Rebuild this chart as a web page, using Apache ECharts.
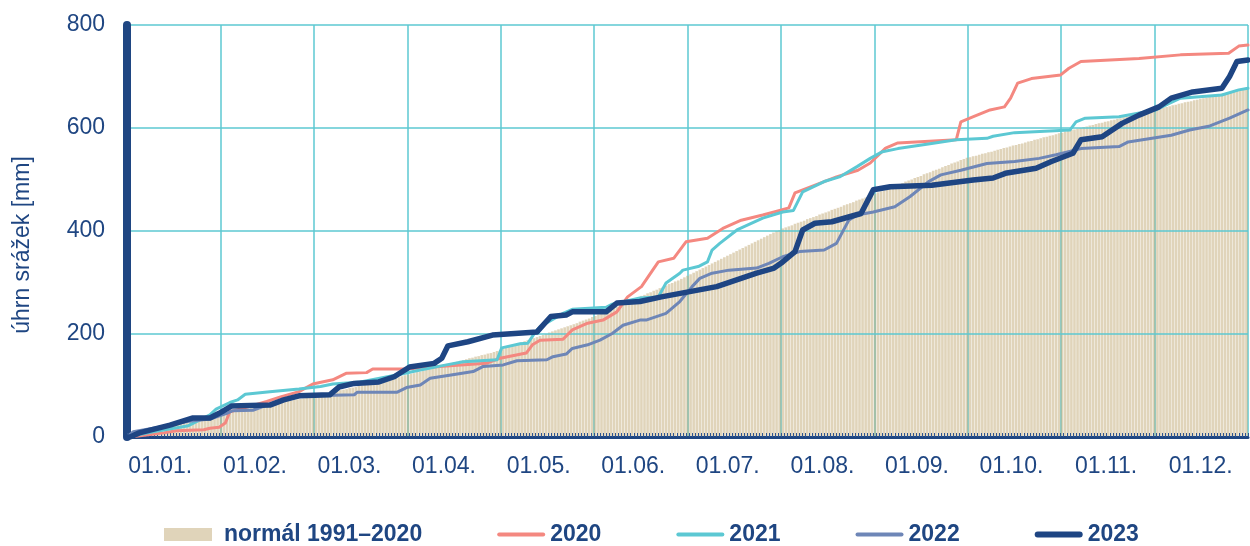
<!DOCTYPE html>
<html><head><meta charset="utf-8">
<script src="https://cdn.jsdelivr.net/npm/echarts@6/dist/echarts.min.js"></script>
<style>html,body{margin:0;padding:0;background:#fff}#c{width:1250px;height:546px}</style>
</head><body><div id="c"></div>
<script>
// month tick labels
const monthLabels = ['01.01.','01.02.','01.03.','01.04.','01.05.','01.06.','01.07.','01.08.','01.09.','01.10.','01.11.','01.12.'];
const yMin = 0, yMax = 800, yStep = 200;

// daily cumulative normal 1991–2020 [mm], one value per day of year
const normal = [
 1,3,4,6,7,9,10,12,13,15,16,17,19,20,22,23,25,26,28,29,30,32,33,35,36,38,39,41,42,44,45,
 46,47,48,49,50,52,53,54,55,56,57,58,59,61,62,63,64,65,66,67,68,70,71,72,73,74,75,76,
 77,79,80,81,83,84,85,87,88,89,91,92,93,95,96,97,99,100,101,103,104,105,107,108,109,111,112,113,115,116,118,
 120,121,123,124,126,127,129,131,132,134,135,137,138,140,142,143,145,146,148,149,151,153,154,156,157,159,160,162,163,165,
 167,169,171,173,175,177,179,182,184,186,188,190,192,194,196,198,200,203,205,207,209,211,213,215,217,219,221,224,226,228,230,
 233,235,238,240,243,245,248,250,253,256,258,261,263,266,268,271,274,276,279,281,284,286,289,291,294,297,299,302,304,307,
 310,313,316,319,322,325,328,331,334,337,340,343,346,349,352,355,358,361,364,367,370,373,376,379,382,385,388,391,394,397,400,
 402,405,407,409,411,414,416,418,420,423,425,427,429,432,434,436,438,441,443,445,447,450,452,454,456,459,461,463,465,468,470,
 472,475,477,479,482,484,486,489,491,493,496,498,500,503,505,507,510,512,514,517,519,521,524,526,528,531,533,535,538,540,
 542,543,545,546,548,550,551,553,554,556,558,559,561,562,564,566,567,569,570,572,574,575,577,578,580,582,583,585,586,588,590,
 591,593,594,596,597,599,600,602,603,605,606,608,609,610,612,613,615,616,618,619,621,622,624,625,627,628,629,631,632,634,
 635,637,638,640,641,642,644,645,647,648,650,651,652,654,655,657,658,659,661,662,664,665,667,668,669,671,672,674,675,676,678
];

// [day of year, cumulative mm]
const y2020 = [[0,0],[1,0],[12,8],[16,12],[25,14],[27,17],[30,19],[32,27],[33.5,49],[38,56],[45.5,69],[50,78],[56,88],[60.5,103],[67,111],[71.5,124],[78,125],[80,132],[91,132],[104,138],[117,143],[121.5,153],[130,163],[132,179],[134.5,188],[142,190],[145,208],[150,221],[155,227],[159.5,243],[163,272],[167.5,292],[173,340],[178,347],[182,379],[189,386],[194,405],[200,421],[207,431],[210.7,437],[215.5,445],[217.5,474],[227,496],[231,505],[238,518],[242,532],[247,561],[251,571],[270,577],[271.5,612],[275.6,622],[281,635],[285.7,641],[287.7,658],[290,687],[294.5,696],[304,703],[306.7,716],[310.6,729],[329.5,735],[343,742],[358.7,745],[362,759],[365,761]];
const y2021 = [[0,0],[8.5,10],[20,22],[27,43],[29,54],[33.5,67],[36,72],[38.5,83],[46.5,88],[56,93],[63,98],[67,103],[76,107],[89,122],[95.5,130],[104,140],[109.5,146],[120.5,150],[122,173],[128,181],[130.5,182],[133,204],[134.5,214],[142,240],[145,248],[156,252],[158,258],[167,270],[173,272],[175.5,299],[180,318],[181,324],[186,331],[189,340],[190.5,363],[193,376],[198.6,402],[207,425],[213.5,437],[217,440],[220,476],[227,496],[232,505],[237.7,525],[242,541],[246,554],[251,560],[262,570],[270,577],[280,580],[282,584],[289,591],[307,596],[309,612],[312,619],[323,622],[335,635],[339,647],[343,658],[356.5,664],[362,674],[365,677]];
const y2022 = [[0,0],[2,10],[8.5,17],[14,23],[19.5,30],[27,35],[32.5,46],[34.5,51],[41,52],[45.5,62],[50,70],[56,78],[60.5,80],[74,82],[75,87],[88,87],[91,96],[95.5,101],[98.7,114],[105,120],[112.7,127],[116,137],[122.5,140],[127,148],[136.7,150],[138.7,156],[143,161],[145,172],[150,179],[154,188],[158,201],[161.5,217],[167,227],[169,227],[175.5,240],[180,263],[184,292],[186.5,308],[190.5,318],[196,324],[205,328],[209,337],[213.5,350],[219,360],[227,363],[231,376],[235,421],[237.7,431],[243,437],[250,447],[255,467],[261,496],[265,509],[271.5,518],[280,531],[289,535],[297,541],[302.5,548],[310.6,560],[323,564],[326,573],[340,586],[346,596],[352.6,604],[359,619],[365,635]];
const y2023 = [[0,0],[1,0],[4,8],[14,23],[21.5,37],[27,37],[30,46],[34,60],[46.5,62],[51,72],[56,80],[66,82],[69,97],[74,104],[82,107],[87,117],[92,136],[100,143],[102.5,153],[104.5,177],[111,185],[119,198],[133.5,204],[138,234],[143,237],[145,243],[156,243],[159.5,260],[167,263],[174,272],[192,292],[205,318],[210.7,328],[213.5,340],[217.5,360],[220,402],[224,415],[229.5,418],[239,434],[243,480],[248.5,486],[262,489],[275.5,499],[282,503],[286,512],[296,522],[301,535],[308,551],[310.6,577],[317.5,583],[324,609],[329.5,625],[336,641],[340,658],[347,670],[356.5,677],[359,700],[361.4,729],[365,732]];

const FONT = "'Liberation Sans', Arial, sans-serif";
const NAVY = '#1f4682';
const GRID = '#5cc8d2';
const days = normal.map((_, i) => i);
const THIN_ICON = 'path://M2,0H46A2,2 0 0 1 46,4H2A2,2 0 0 1 2,0Z';
const THICK_ICON = 'path://M3,0H45A3,3 0 0 1 45,6H3A3,3 0 0 1 3,0Z';

const chart = echarts.init(document.getElementById('c'), null, {renderer: 'canvas'});
const lineSeries = (name, data, color, width) => ({
  name, type: 'line', xAxisIndex: 1, yAxisIndex: 0, data,
  symbol: 'none', showSymbol: false, z: 3,
  lineStyle: {color, width, cap: 'round', join: 'round'},
  itemStyle: {color}
});
chart.setOption({
  animation: false,
  textStyle: {fontFamily: FONT},
  grid: [
    {left: 127, right: 2, top: 25, bottom: 109},
    {left: 113, right: 2, top: 25, bottom: 109}
  ],
  legend: {
    left: 164, top: 523, padding: 0, itemWidth: 48, itemHeight: 13, itemGap: 75,
    symbolKeepAspect: true,
    textStyle: {fontFamily: FONT, fontSize: 23, fontWeight: 'bold', color: NAVY},
    data: [
      {name: 'normál 1991–2020', icon: 'rect', textStyle: {padding: [0, 0, 0, 7]}},
      {name: '2020', icon: THIN_ICON},
      {name: '2021', icon: THIN_ICON},
      {name: '2022', icon: THIN_ICON},
      {name: '2023', icon: THICK_ICON}
    ]
  },
  xAxis: [
    {type: 'category', gridIndex: 0, data: days, boundaryGap: true,
     axisLine: {show: true, lineStyle: {color: NAVY, width: 3}},
     axisTick: {show: true, interval: 0, inside: true, length: 4, lineStyle: {color: '#2d5593', width: 1}},
     axisLabel: {show: false}, splitLine: {show: false}, z: 2},
    {type: 'value', gridIndex: 0, min: 0, max: 365, show: false},
    {type: 'category', gridIndex: 0, data: monthLabels, boundaryGap: true,
     axisLine: {show: false}, axisTick: {show: false}, axisLabel: {show: false},
     splitLine: {show: true, interval: 0, lineStyle: {color: GRID, width: 1.5}}},
    {type: 'category', gridIndex: 1, data: monthLabels, boundaryGap: true,
     axisLine: {show: false}, axisTick: {show: false}, splitLine: {show: false},
     axisLabel: {show: true, interval: 0, margin: 18, fontSize: 23, color: NAVY, fontFamily: FONT}}
  ],
  yAxis: [
    {type: 'value', gridIndex: 0, min: yMin, max: yMax, interval: yStep,
     name: 'úhrn srážek [mm]', nameLocation: 'middle', nameGap: 93,
     nameTextStyle: {fontSize: 23, color: NAVY, fontFamily: FONT, padding: [0, 28, 0, 0]},
     axisLine: {show: true, lineStyle: {color: NAVY, width: 8}},
     axisTick: {show: false},
     axisLabel: {fontSize: 23, color: NAVY, margin: 22, fontFamily: FONT},
     splitLine: {show: true, lineStyle: {color: GRID, width: 1.5}}, z: 2},
    {type: 'value', gridIndex: 1, min: yMin, max: yMax, show: false}
  ],
  series: [
    {name: 'normál 1991–2020', type: 'bar', xAxisIndex: 0, yAxisIndex: 0, data: normal,
     barCategoryGap: '15%', itemStyle: {color: 'rgba(193,170,117,0.5)'}, z: 1},
    lineSeries('2020', y2020, '#f48880', 3),
    lineSeries('2021', y2021, '#5cc8d3', 3),
    lineSeries('2022', y2022, '#6e86b7', 3),
    lineSeries('2023', y2023, '#1e4583', 5.5)
  ]
});
</script>
</body></html>
